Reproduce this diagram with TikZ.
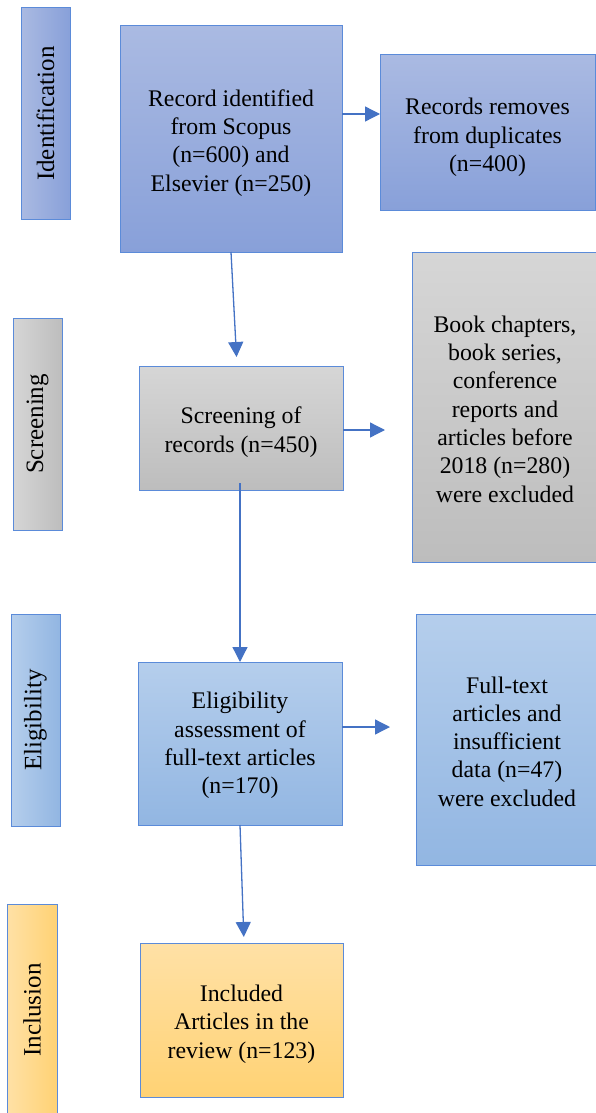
\documentclass[tikz,border=0pt]{standalone}
\usepackage{fontspec}
\setmainfont{Liberation Serif}
\usetikzlibrary{arrows.meta}

\definecolor{edgeblue}{HTML}{5B8BD9}
\definecolor{arrowblue}{HTML}{4472C4}
\definecolor{blueA}{HTML}{AABAE2}
\definecolor{blueB}{HTML}{88A0D9}
\definecolor{grayA}{HTML}{D6D6D6}
\definecolor{grayB}{HTML}{BDBDBD}
\definecolor{skyA}{HTML}{B5CEEC}
\definecolor{skyB}{HTML}{92B6E2}
\definecolor{goldA}{HTML}{FFE1A6}
\definecolor{goldB}{HTML}{FFD274}

\begin{document}
\begin{tikzpicture}[x=1pt,y=-1pt,
  txt/.style={font=\fontsize{23.8pt}{28.3pt}\selectfont, align=center, inner sep=0pt},
  panel/.style={draw=edgeblue, line width=1pt, inner sep=0pt, outer sep=0pt, rectangle},
  bluebox/.style={panel, top color=blueA, bottom color=blueB},
  graybox/.style={panel, top color=grayA, bottom color=grayB},
  skybox/.style={panel, top color=skyA, bottom color=skyB},
  goldbox/.style={panel, top color=goldA, bottom color=goldB},
  bluebar/.style={panel, left color=blueA, right color=blueB},
  graybar/.style={panel, left color=grayA, right color=grayB},
  skybar/.style={panel, left color=skyA, right color=skyB},
  goldbar/.style={panel, left color=goldA, right color=goldB},
  flow/.style={draw=arrowblue, line width=1.3pt, -{Triangle[width=15pt,length=15pt]}},
  sidelabel/.style={txt, font=\fontsize{25pt}{30pt}\selectfont, rotate=90}
]
\useasboundingbox (0,0) rectangle (596,1113);
\clip (0,0) rectangle (596,1113);

% stage bars on the left
\node[bluebar, minimum width=49pt, minimum height=211pt] (idbar) at (45.5,113.5) {};
\node[sidelabel] at (idbar.center) {Identification};
\node[graybar, minimum width=49pt, minimum height=212pt] (scbar) at (37.5,424) {};
\node[sidelabel] at (scbar.center) {Screening};
\node[skybar, minimum width=49pt, minimum height=212pt] (elbar) at (35.5,720) {};
\node[sidelabel] at (elbar.center) {Eligibility};
\node[goldbar, minimum width=50pt, minimum height=220pt] (inbar) at (32,1014) {};
\node[sidelabel] at (32,1010) {Inclusion};

% main flow boxes
\node[bluebox, minimum width=222pt, minimum height=226pt] (rec) at (231,139) {};
\node[bluebox, minimum width=215pt, minimum height=155pt] (dup) at (487.5,132.5) {};
\node[graybox, minimum width=204pt, minimum height=124pt] (scr) at (241,428) {};
\node[graybox, minimum width=186pt, minimum height=310pt] (book) at (505,407) {};
\node[skybox, minimum width=204pt, minimum height=163pt] (elig) at (240,743.5) {};
\node[skybox, minimum width=182pt, minimum height=251pt] (full) at (507,739.5) {};
\node[goldbox, minimum width=203pt, minimum height=154pt] (incl) at (241.5,1020) {};

% box texts, set a little below each box centre
\node[txt] at ([yshift=-4pt]rec.center) {Record identified\\from Scopus\\(n=600) and\\Elsevier (n=250)};
\node[txt] at ([yshift=-5pt]dup.center) {Records removes\\from duplicates\\(n=400)};
\node[txt] at ([yshift=-4pt]scr.center) {Screening of\\records (n=450)};
\node[txt] at ([yshift=-2pt]book.center) {Book chapters,\\book series,\\conference\\reports and\\articles before\\2018 (n=280)\\were excluded};
\node[txt] at ([yshift=-2pt]elig.center) {Eligibility\\assessment of\\full-text articles\\(n=170)};
\node[txt] at ([yshift=-2pt]full.center) {Full-text\\articles and\\insufficient\\data (n=47)\\were excluded};
\node[txt] at ([yshift=-4pt]incl.center) {Included\\Articles in the\\review (n=123)};

% connectors
\draw[flow] ([yshift=25pt]rec.east) -- ([yshift=25pt]rec.east -| dup.west);
\draw[flow, shorten >=9pt] (rec.south) -- ([xshift=-4pt]scr.north);
\draw[flow, shorten >=27pt] ([yshift=-2pt]scr.east) -- ([yshift=-2pt]scr.east -| book.west);
\draw[flow, shorten <=-7pt] ([xshift=-1pt]scr.south) -- ([xshift=-1pt]scr.south |- elig.north);
\draw[flow, shorten >=26pt] ([yshift=16.5pt]elig.east) -- ([yshift=16.5pt]elig.east -| full.west);
\draw[flow, shorten >=6pt] (elig.south) -- ([xshift=2.5pt]incl.north);
\end{tikzpicture}
\end{document}
